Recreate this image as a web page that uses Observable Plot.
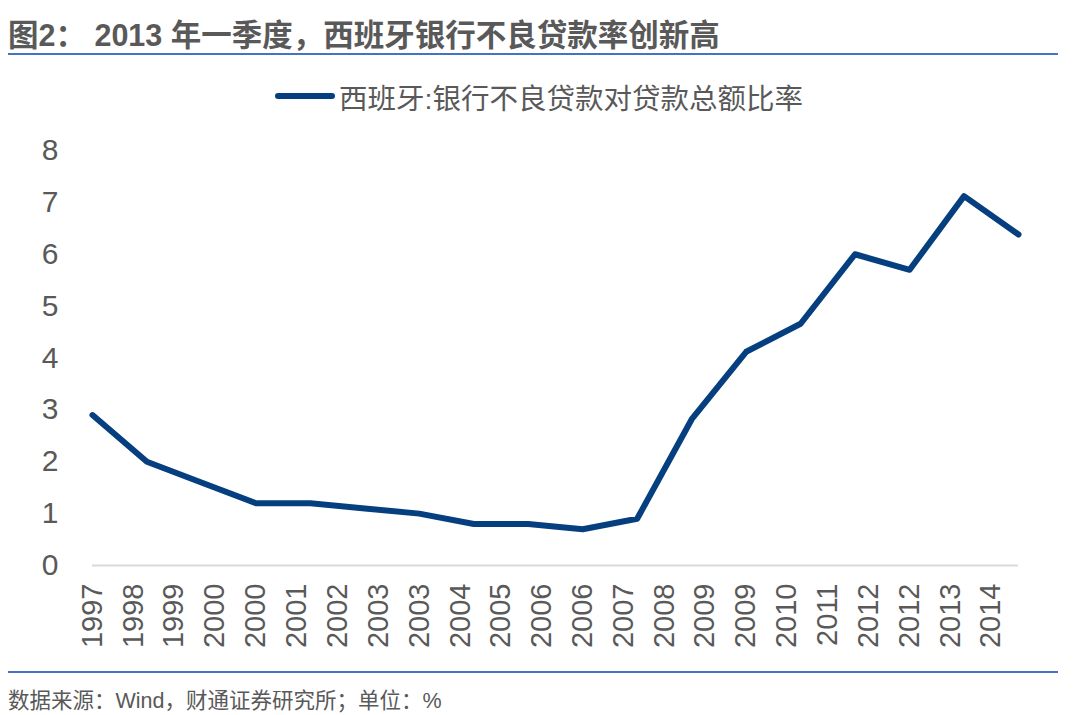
<!DOCTYPE html>
<html>
<head>
<meta charset="utf-8">
<script src="https://cdn.jsdelivr.net/npm/d3@7"></script>
<script src="https://cdn.jsdelivr.net/npm/@observablehq/plot@0.6"></script>
<style>
  html, body { margin: 0; padding: 0; background: #fff; }
  #wrap { position: relative; width: 1080px; height: 715px; overflow: hidden; background: #fff;
          font-family: "Liberation Sans", Arial, "Noto Sans CJK SC", sans-serif; color: #595959; }
  #title { position: absolute; left: 8px; top: 11px; font-size: 30.5px; font-weight: bold; white-space: nowrap; }
  .rule { position: absolute; left: 8px; width: 1050px; height: 2px; background: #4472C4; }
  #legend { position: absolute; left: 275px; top: 78px; height: 36px; display: flex; align-items: center; white-space: nowrap; }
  #legend .swatch { width: 60px; height: 6px; border-radius: 3px; background: #063F7F; margin-right: 4px; }
  #legend .lab { font-size: 28.5px; }
  #chart { position: absolute; left: 0; top: 120px; }
  #footer { position: absolute; left: 8px; top: 683px; font-size: 21.5px; white-space: nowrap; }
</style>
</head>
<body>
<div id="wrap">
  <div id="title">图2： 2013 年一季度，西班牙银行不良贷款率创新高</div>
  <div class="rule" style="top:53px"></div>
  <div id="legend"><div class="swatch"></div><div class="lab">西班牙:银行不良贷款对贷款总额比率</div></div>
  <div id="chart"></div>
  <div class="rule" style="top:671px"></div>
  <div id="footer">数据来源：Wind，财通证券研究所；单位：%</div>
</div>
<script>
// Year-end observations (December of each year)
const years = [1997, 1998, 1999, 2000, 2001, 2002, 2003, 2004, 2005, 2006, 2007, 2008, 2009, 2010, 2011, 2012, 2013, 2014];
const values = [2.9, 2.0, 1.6, 1.2, 1.2, 1.1, 1.0, 0.8, 0.8, 0.7, 0.9, 2.82, 4.12, 4.66, 6.0, 5.7, 7.12, 6.38];
// Category axis labels, one every 9 months starting December 1997
const tickLabels = ["1997","1998","1999","2000","2000","2001","2002","2003","2003","2004","2005","2006","2006","2007","2008","2009","2009","2010","2011","2012","2012","2013","2014"];
const yTicks = [0, 1, 2, 3, 4, 5, 6, 7, 8];

const data = years.map((y, i) => ({date: new Date(y, 11, 1), value: values[i]}));
const tickDates = tickLabels.map((_, i) => new Date(1997, 11 + 9 * i, 1));
const labelMap = new Map(tickDates.map((d, i) => [+d, tickLabels[i]]));

const chart = Plot.plot({
  width: 1080,
  height: 540,
  marginLeft: 92,
  marginRight: 62,
  marginTop: 30,
  marginBottom: 95,
  style: {fontFamily: "'Liberation Sans', Arial, sans-serif", fontSize: "30px", color: "#595959", background: "transparent"},
  x: {type: "time", domain: [data[0].date, data[data.length - 1].date]},
  y: {domain: [0, 8]},
  marks: [
    Plot.ruleY([0], {stroke: "#d9d9d9", strokeWidth: 2}),
    Plot.line(data, {x: "date", y: "value", stroke: "#063F7F", strokeWidth: 6, strokeLinecap: "round", strokeLinejoin: "round"}),
    Plot.axisY({ticks: yTicks, tickSize: 0, tickPadding: 34, fontSize: 30, label: null}),
    Plot.axisX({ticks: tickDates, tickFormat: d => labelMap.get(+d), tickRotate: -90, tickSize: 0, tickPadding: 18, fontSize: 29, label: null})
  ]
});
document.getElementById("chart").appendChild(chart);
</script>
</body>
</html>
